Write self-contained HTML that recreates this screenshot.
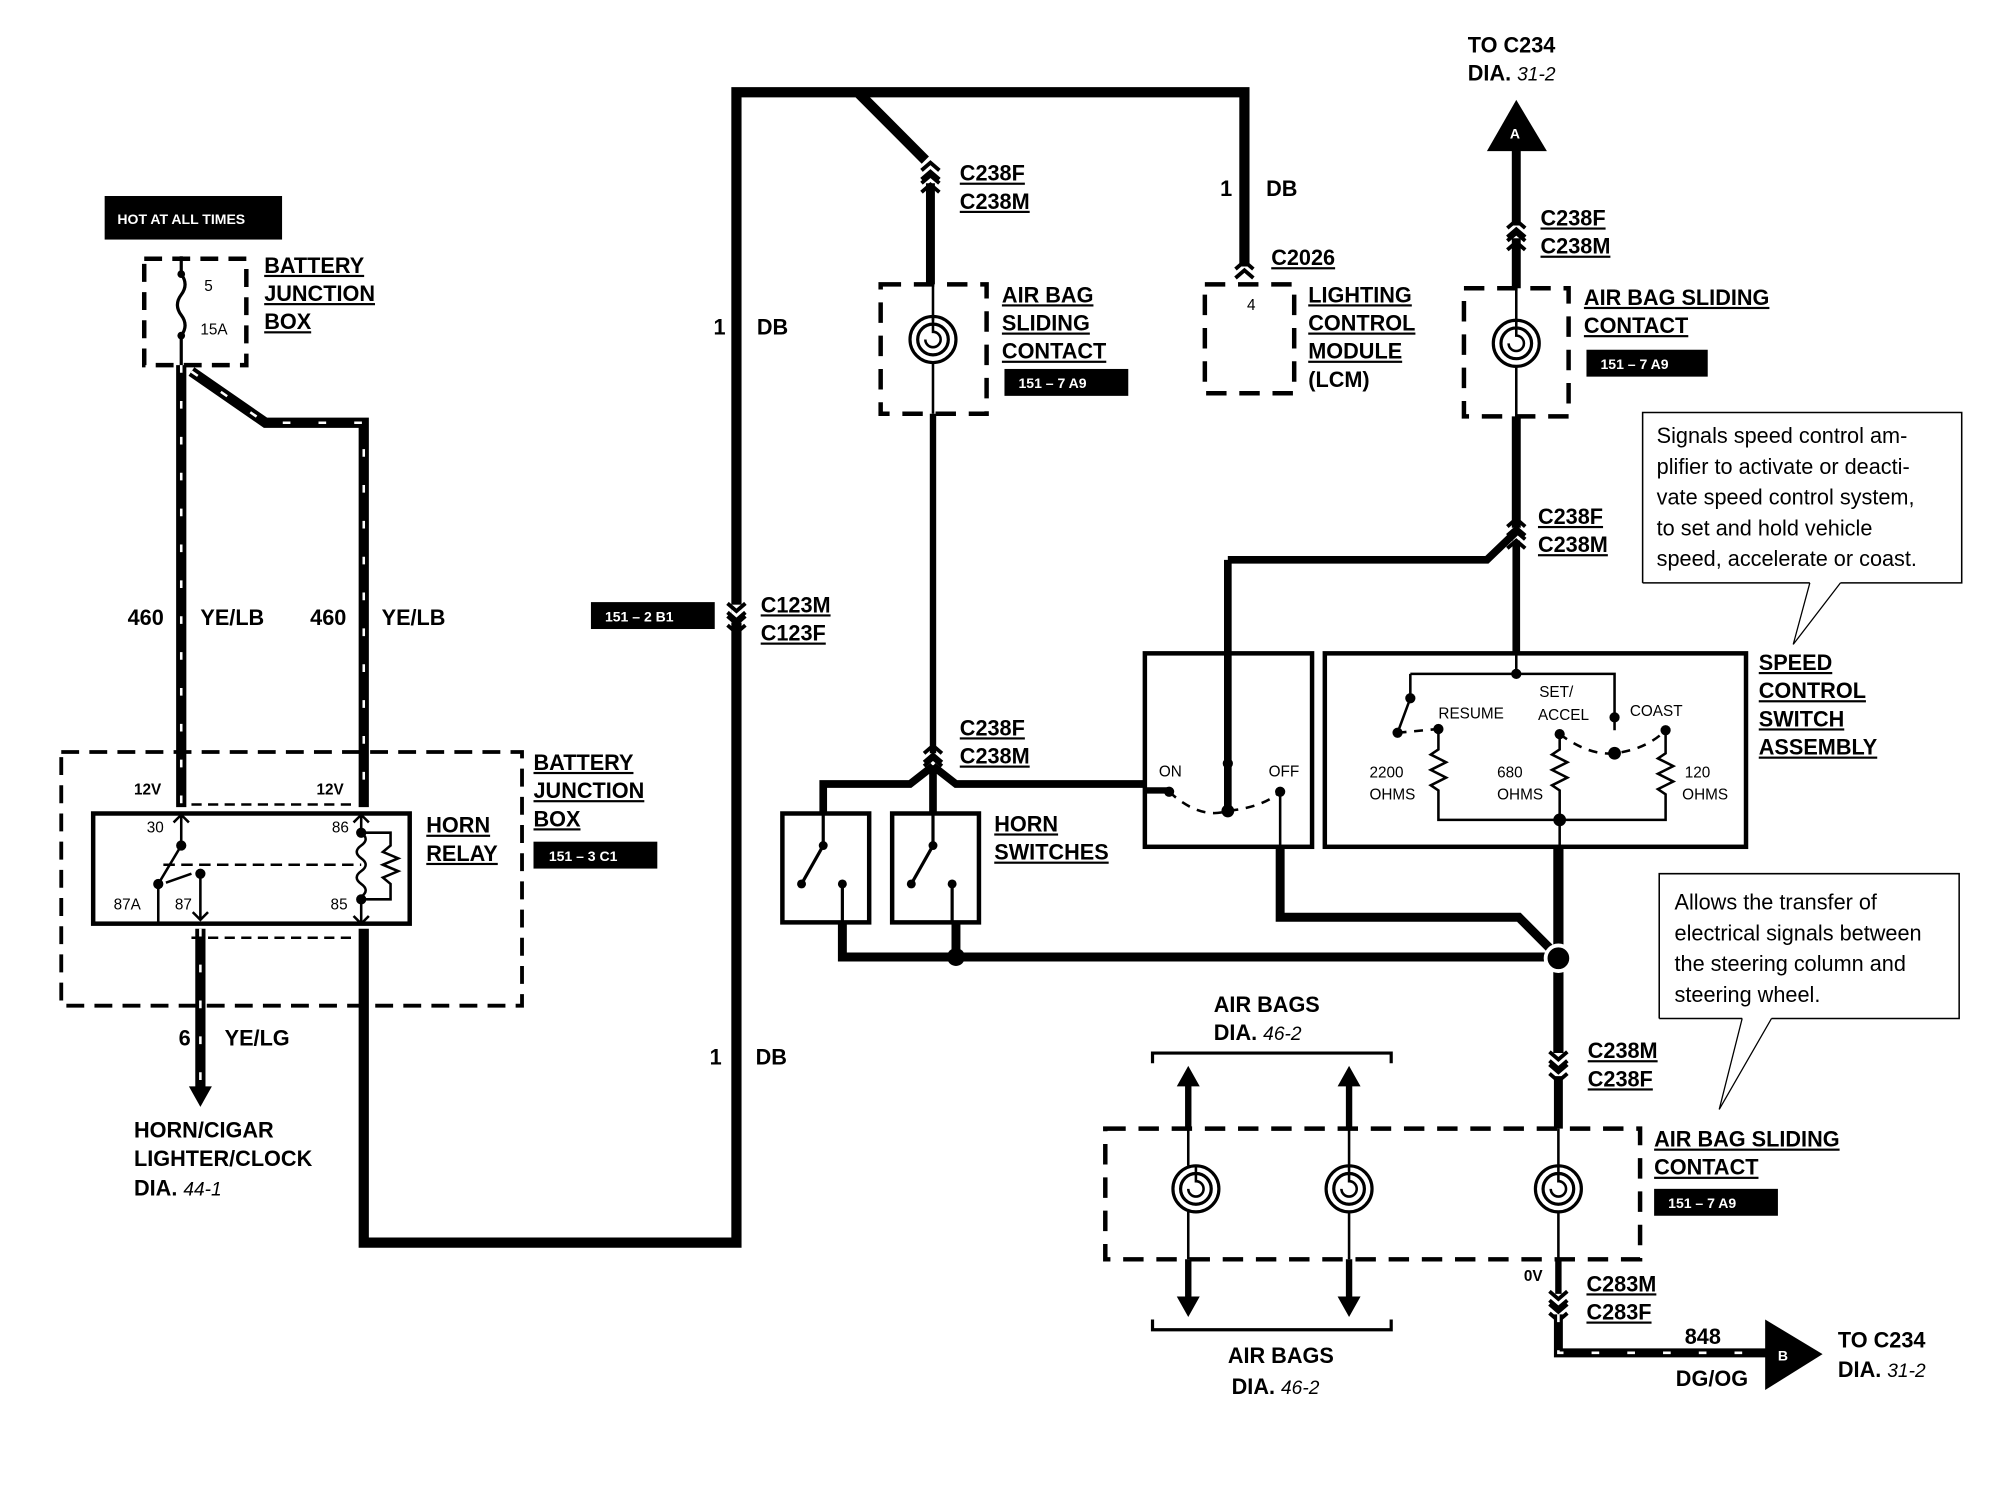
<!DOCTYPE html>
<html><head><meta charset="utf-8"><style>
html,body{margin:0;padding:0;background:#fff;}
svg{display:block;}
text{font-family:"Liberation Sans",Arial,sans-serif;fill:#000;}
.b{font-weight:bold;font-size:17px;}
.u{text-decoration:underline;}
.s{font-size:12px;}
.w{fill:#fff;font-weight:bold;font-size:11px;}
.n{font-size:17px;}
.i{font-style:italic;font-size:15px;font-weight:normal;}
</style></head><body>
<svg width="2000" height="1504" viewBox="0 0 1567 1174" preserveAspectRatio="none" xmlns="http://www.w3.org/2000/svg">
<defs>
<g id="spiral"><circle r="18" fill="none" stroke="#000" stroke-width="2.5"/><circle r="12" fill="none" stroke="#000" stroke-width="2.5"/><path d="M0 -18 L0 -6 A6 6 0 1 1 -6 0" fill="none" stroke="#000" stroke-width="2"/></g>
<g id="conn"><path d="M-7 -2 L0 -8 L7 -2 M-7 5 L0 -1 L7 5" fill="none" stroke="#000" stroke-width="3"/></g>
<g id="connd"><path d="M-7 2 L0 8 L7 2 M-7 -5 L0 1 L7 -5" fill="none" stroke="#000" stroke-width="3"/></g>
</defs>
<rect width="1567" height="1174" fill="#fff"/>

<rect x="82" y="153" width="139" height="34" fill="#000"/>
<text x="92" y="175" class="w">HOT AT ALL TIMES</text>
<rect x="113" y="202" width="80" height="83" fill="none" stroke="#000" stroke-width="3.5" stroke-dasharray="14 8"/>
<path d="M142 200 L142 214 M142 214 q6 8 0 16 q-6 8 0 16 q6 8 0 16 L142 285" fill="none" stroke="#000" stroke-width="2.5"/>
<circle cx="142" cy="214" r="3" /><circle cx="142" cy="262" r="3"/>
<text x="160" y="227" class="s">5</text><text x="157" y="261" class="s">15A</text>
<text x="207" y="213" class="b u">BATTERY</text><text x="207" y="235" class="b u">JUNCTION</text><text x="207" y="257" class="b u">BOX</text>

<g fill="none" stroke-linejoin="miter">
<path d="M142 285 L142 630 M150 290 L208 330 L285 330 L285 630" stroke="#000" stroke-width="8"/>
<path d="M142 285 L142 630 M150 290 L208 330 L285 330 L285 630" stroke="#fff" stroke-width="2" stroke-dasharray="6 22"/>
</g>
<text x="100" y="488" class="b">460</text><text x="157" y="488" class="b">YE/LB</text>
<text x="243" y="488" class="b">460</text><text x="299" y="488" class="b">YE/LB</text>

<rect x="48" y="587" width="361" height="198" fill="none" stroke="#000" stroke-width="3" stroke-dasharray="14 8"/>
<text x="418" y="601" class="b u">BATTERY</text><text x="418" y="623" class="b u">JUNCTION</text><text x="418" y="645" class="b u">BOX</text>
<rect x="418" y="657" width="97" height="21" fill="#000"/><text x="430" y="672" class="w">151 – 3 C1</text>
<text x="105" y="620" class="s" font-weight="bold">12V</text><text x="248" y="620" class="s" font-weight="bold">12V</text>
<path d="M150 628 L275 628" stroke="#000" stroke-width="2" stroke-dasharray="8 5"/>
<rect x="73" y="635" width="248" height="86" fill="none" stroke="#000" stroke-width="3.5"/>
<text x="334" y="650" class="b u">HORN</text><text x="334" y="672" class="b u">RELAY</text>
<text x="115" y="650" class="s">30</text><text x="260" y="650" class="s">86</text>
<text x="89" y="710" class="s">87A</text><text x="137" y="710" class="s">87</text><text x="259" y="710" class="s">85</text>
<g fill="none" stroke="#000" stroke-width="2">
<path d="M142 636 L142 660 L124 690 L124 721 M136 642 L142 636 L148 642"/>
<path d="M128 675 L283 675" stroke-dasharray="9 5"/>
<path d="M130 689 L150 682 M157 682 L157 718 M151 712 L157 718 L163 712"/>
<path d="M283 636 L283 650 q7 5 0 10 q-7 5 0 10 q7 5 0 10 q-7 5 0 10 q7 5 0 10 L283 721 M277 642 L283 636 L289 642 M277 715 L283 721 L289 715"/>
<path d="M283 650 L306 650 L306 660 l-6 5 l12 5 l-12 5 l12 5 l-12 5 l6 5 L306 702 L283 702"/>
</g>
<circle cx="142" cy="660" r="4"/><circle cx="124" cy="690" r="4"/><circle cx="157" cy="682" r="4"/><circle cx="283" cy="650" r="4"/><circle cx="283" cy="702" r="4"/>
<path d="M150 732 L275 732" stroke="#000" stroke-width="2" stroke-dasharray="8 5"/>
<path d="M157 725 L157 850" stroke="#000" stroke-width="8"/>
<path d="M157 725 L157 850" stroke="#fff" stroke-width="2" stroke-dasharray="6 22"/>
<path d="M148 848 L157 864 L166 848 Z" fill="#000"/>
<text x="140" y="816" class="b">6</text><text x="176" y="816" class="b">YE/LG</text>
<text x="105" y="888" class="b">HORN/CIGAR</text><text x="105" y="910" class="b">LIGHTER/CLOCK</text>
<text x="105" y="933" class="b">DIA. <tspan class="i">44-1</tspan></text>

<path d="M285 725 L285 970 L577 970 L577 72 L672 72 L725 125 M672 72 L975 72 L975 208" fill="none" stroke="#000" stroke-width="8"/>
<text x="559" y="261" class="b">1</text><text x="593" y="261" class="b">DB</text>
<text x="556" y="831" class="b">1</text><text x="592" y="831" class="b">DB</text>
<rect x="573" y="472" width="8" height="14" fill="#fff"/>
<use href="#connd" x="577" y="476"/><use href="#connd" x="577" y="486"/>
<rect x="463" y="470" width="97" height="21" fill="#000"/><text x="474" y="485" class="w">151 – 2 B1</text>
<text x="596" y="478" class="b u">C123M</text><text x="596" y="500" class="b u">C123F</text>

<use href="#conn" x="729" y="135"/><use href="#conn" x="729" y="145"/>
<path d="M729 143 L729 222" stroke="#000" stroke-width="7"/>
<text x="752" y="141" class="b u">C238F</text><text x="752" y="163" class="b u">C238M</text>
<rect x="690" y="222" width="83" height="101" fill="none" stroke="#000" stroke-width="3.5" stroke-dasharray="16 10"/>
<path d="M731 222 L731 250 M731 283 L731 323" stroke="#000" stroke-width="2"/>
<use href="#spiral" x="731" y="265"/>
<text x="785" y="236" class="b u">AIR BAG</text><text x="785" y="258" class="b u">SLIDING</text><text x="785" y="280" class="b u">CONTACT</text>
<rect x="787" y="288" width="97" height="21" fill="#000"/><text x="798" y="303" class="w">151 – 7 A9</text>
<path d="M731 323 L731 588" stroke="#000" stroke-width="5"/>
<use href="#conn" x="731" y="590"/><use href="#conn" x="731" y="600"/>
<text x="752" y="574" class="b u">C238F</text><text x="752" y="596" class="b u">C238M</text>
<path d="M731 598 L713 612 L645 612 L645 636 M731 598 L749 612 L897 612 M731 598 L731 636" fill="none" stroke="#000" stroke-width="6"/>

<use href="#conn" x="975" y="212"/>
<text x="956" y="153" class="b">1</text><text x="992" y="153" class="b">DB</text>
<text x="996" y="207" class="b u">C2026</text>
<rect x="944" y="222" width="70" height="85" fill="none" stroke="#000" stroke-width="3.5" stroke-dasharray="16 10"/>
<text x="977" y="242" class="s" font-size="10">4</text>
<text x="1025" y="236" class="b u">LIGHTING</text><text x="1025" y="258" class="b u">CONTROL</text><text x="1025" y="280" class="b u">MODULE</text><text x="1025" y="302" class="b">(LCM)</text>

<rect x="613" y="635" width="68" height="85" fill="none" stroke="#000" stroke-width="3.5"/>
<rect x="699" y="635" width="68" height="85" fill="none" stroke="#000" stroke-width="3.5"/>
<g fill="none" stroke="#000" stroke-width="2.5">
<path d="M645 636 L645 660 L628 690 M660 690 L660 720"/>
<path d="M731 636 L731 660 L714 690 M746 690 L746 720"/>
</g>
<circle cx="645" cy="660" r="3.5"/><circle cx="628" cy="690" r="3.5"/><circle cx="660" cy="690" r="3.5"/>
<circle cx="731" cy="660" r="3.5"/><circle cx="714" cy="690" r="3.5"/><circle cx="746" cy="690" r="3.5"/>
<text x="779" y="649" class="b u">HORN</text><text x="779" y="671" class="b u">SWITCHES</text>
<path d="M660 720 L660 747 L1221 747 M749 720 L749 747" fill="none" stroke="#000" stroke-width="7"/>
<circle cx="749" cy="747" r="7"/>

<rect x="897" y="510" width="131" height="151" fill="none" stroke="#000" stroke-width="3.5"/>
<path d="M962 437 L962 632 M962 437 L1165 437 L1188 415" fill="none" stroke="#000" stroke-width="6"/>
<path d="M897 617 L916 617" stroke="#000" stroke-width="5"/>
<path d="M916 618 Q940 640 962 633 Q990 630 1003 618" fill="none" stroke="#000" stroke-width="2" stroke-dasharray="7 6"/>
<circle cx="916" cy="618" r="4"/><circle cx="962" cy="596" r="4"/><circle cx="962" cy="633" r="5"/><circle cx="1003" cy="618" r="4"/>
<path d="M1003 618 L1003 661" stroke="#000" stroke-width="2"/>
<text x="908" y="606" class="s">ON</text><text x="994" y="606" class="s">OFF</text>
<path d="M1003 661 L1003 716 L1190 716 L1221 747" fill="none" stroke="#000" stroke-width="7"/>

<rect x="1038" y="510" width="330" height="151" fill="none" stroke="#000" stroke-width="3.5"/>
<text x="1378" y="523" class="b u">SPEED</text><text x="1378" y="545" class="b u">CONTROL</text><text x="1378" y="567" class="b u">SWITCH</text><text x="1378" y="589" class="b u">ASSEMBLY</text>
<g fill="none" stroke="#000" stroke-width="2">
<path d="M1188 510 L1188 526 M1105 526 L1265 526 L1265 570 M1105 526 L1105 545 L1095 572"/>
<path d="M1095 572 L1127 569" stroke-dasharray="7 6"/>
<path d="M1127 569 L1127 585 l-6 4 l12 6 l-12 6 l12 6 l-12 6 l6 4 L1127 640 L1305 640 L1305 620 l-6 -4 l12 -6 l-12 -6 l12 -6 l-12 -6 l6 -4 L1305 570"/>
<path d="M1222 573 L1222 585 l-6 4 l12 6 l-12 6 l12 6 l-12 6 l6 4 L1222 661"/>
<path d="M1222 573 Q1245 590 1265 588 Q1290 585 1305 570" stroke-dasharray="7 6"/>
</g>
<circle cx="1188" cy="526" r="4"/><circle cx="1105" cy="545" r="4"/><circle cx="1095" cy="572" r="4"/><circle cx="1127" cy="569" r="4"/>
<circle cx="1222" cy="573" r="4"/><circle cx="1265" cy="560" r="4"/><circle cx="1265" cy="588" r="5"/><circle cx="1305" cy="570" r="4"/><circle cx="1222" cy="640" r="5"/>
<text x="1127" y="561" class="s">RESUME</text><text x="1206" y="544" class="s">SET/</text><text x="1205" y="562" class="s">ACCEL</text><text x="1277" y="559" class="s">COAST</text>
<text x="1073" y="607" class="s">2200</text><text x="1073" y="624" class="s">OHMS</text>
<text x="1173" y="607" class="s">680</text><text x="1173" y="624" class="s">OHMS</text>
<text x="1320" y="607" class="s">120</text><text x="1318" y="624" class="s">OHMS</text>
<path d="M1221 661 L1221 822" stroke="#000" stroke-width="8"/>
<circle cx="1221" cy="748" r="10" fill="#000" stroke="#fff" stroke-width="3"/>

<text x="1150" y="41" class="b">TO C234</text><text x="1150" y="63" class="b">DIA. <tspan class="i">31-2</tspan></text>
<path d="M1165 118 L1188 78 L1212 118 Z" fill="#000"/>
<text x="1183" y="108" class="w" font-size="13">A</text>
<path d="M1188 116 L1188 176 M1188 186 L1188 225 M1188 325 L1188 412" stroke="#000" stroke-width="7"/>
<use href="#conn" x="1188" y="180"/><use href="#conn" x="1188" y="190"/>
<text x="1207" y="176" class="b u">C238F</text><text x="1207" y="198" class="b u">C238M</text>
<rect x="1147" y="225" width="82" height="100" fill="none" stroke="#000" stroke-width="3.5" stroke-dasharray="16 10"/>
<path d="M1188 225 L1188 252 M1188 286 L1188 325" stroke="#000" stroke-width="2"/>
<use href="#spiral" x="1188" y="268"/>
<text x="1241" y="238" class="b u">AIR BAG SLIDING</text><text x="1241" y="260" class="b u">CONTACT</text>
<rect x="1243" y="273" width="95" height="21" fill="#000"/><text x="1254" y="288" class="w">151 – 7 A9</text>
<use href="#conn" x="1188" y="413"/><use href="#conn" x="1188" y="423"/>
<path d="M1188 422 L1188 510" stroke="#000" stroke-width="6"/>
<text x="1205" y="409" class="b u">C238F</text><text x="1205" y="431" class="b u">C238M</text>

<path d="M1287 455 L1287 322 L1537 322 L1537 455 L1442 455 M1418 455 L1287 455" fill="none" stroke="#000" stroke-width="1.2"/>
<path d="M1442 455 L1405 503 L1418 455" fill="none" stroke="#000" stroke-width="1"/>
<text x="1298" y="346" class="n">Signals speed control am-</text>
<text x="1298" y="370" class="n">plifier to activate or deacti-</text>
<text x="1298" y="394" class="n">vate speed control system,</text>
<text x="1298" y="418" class="n">to set and hold vehicle</text>
<text x="1298" y="442" class="n">speed, accelerate or coast.</text>
<path d="M1300 795 L1300 682 L1535 682 L1535 795 L1388 795 M1365 795 L1300 795" fill="none" stroke="#000" stroke-width="1.2"/>
<path d="M1388 795 L1347 866 L1365 795" fill="none" stroke="#000" stroke-width="1"/>
<text x="1312" y="710" class="n">Allows the transfer of</text>
<text x="1312" y="734" class="n">electrical signals between</text>
<text x="1312" y="758" class="n">the steering column and</text>
<text x="1312" y="782" class="n">steering wheel.</text>

<use href="#connd" x="1221" y="826"/><use href="#connd" x="1221" y="836"/>
<path d="M1221 840 L1221 881" stroke="#000" stroke-width="7"/>
<text x="1244" y="826" class="b u">C238M</text><text x="1244" y="848" class="b u">C238F</text>
<text x="951" y="790" class="b">AIR BAGS</text><text x="951" y="812" class="b">DIA. <tspan class="i">46-2</tspan></text>
<path d="M903 830 L903 822 L1090 822 L1090 830" fill="none" stroke="#000" stroke-width="2.5"/>
<path d="M931 881 L931 845 M1057 881 L1057 845" stroke="#000" stroke-width="5"/>
<path d="M922 848 L931 832 L940 848 Z M1048 848 L1057 832 L1066 848 Z" fill="#000"/>
<rect x="866" y="881" width="419" height="102" fill="none" stroke="#000" stroke-width="3.5" stroke-dasharray="16 10"/>
<use href="#spiral" x="937" y="928"/><use href="#spiral" x="1057" y="928"/><use href="#spiral" x="1221" y="928"/>
<path d="M931 881 L931 910 M1057 881 L1057 910 M1221 881 L1221 910 M931 946 L931 983 M1057 946 L1057 983 M1221 946 L1221 983" stroke="#000" stroke-width="2"/>
<path d="M931 983 L931 1015 M1057 983 L1057 1015" stroke="#000" stroke-width="5"/>
<path d="M922 1012 L931 1028 L940 1012 Z M1048 1012 L1057 1028 L1066 1012 Z" fill="#000"/>
<path d="M903 1030 L903 1038 L1090 1038 L1090 1030" fill="none" stroke="#000" stroke-width="2.5"/>
<text x="962" y="1064" class="b">AIR BAGS</text><text x="965" y="1088" class="b">DIA. <tspan class="i">46-2</tspan></text>
<text x="1296" y="895" class="b u">AIR BAG SLIDING</text><text x="1296" y="917" class="b u">CONTACT</text>
<rect x="1296" y="928" width="97" height="21" fill="#000"/><text x="1307" y="943" class="w">151 – 7 A9</text>

<text x="1194" y="1000" class="s" font-weight="bold">0V</text>
<path d="M1221 983 L1221 1010" stroke="#000" stroke-width="5"/>
<use href="#connd" x="1221" y="1013"/><use href="#connd" x="1221" y="1023"/>
<text x="1243" y="1008" class="b u">C283M</text><text x="1243" y="1030" class="b u">C283F</text>
<path d="M1221 1026 L1221 1056 L1385 1056" fill="none" stroke="#000" stroke-width="7"/>
<path d="M1221 1026 L1221 1056 L1385 1056" fill="none" stroke="#fff" stroke-width="2" stroke-dasharray="6 22"/>
<text x="1320" y="1049" class="b">848</text><text x="1313" y="1082" class="b">DG/OG</text>
<path d="M1383 1030 L1428 1057 L1383 1085 Z" fill="#000"/>
<text x="1393" y="1062" class="w" font-size="13">B</text>
<text x="1440" y="1052" class="b">TO C234</text><text x="1440" y="1075" class="b">DIA. <tspan class="i">31-2</tspan></text>
</svg>
</body></html>
